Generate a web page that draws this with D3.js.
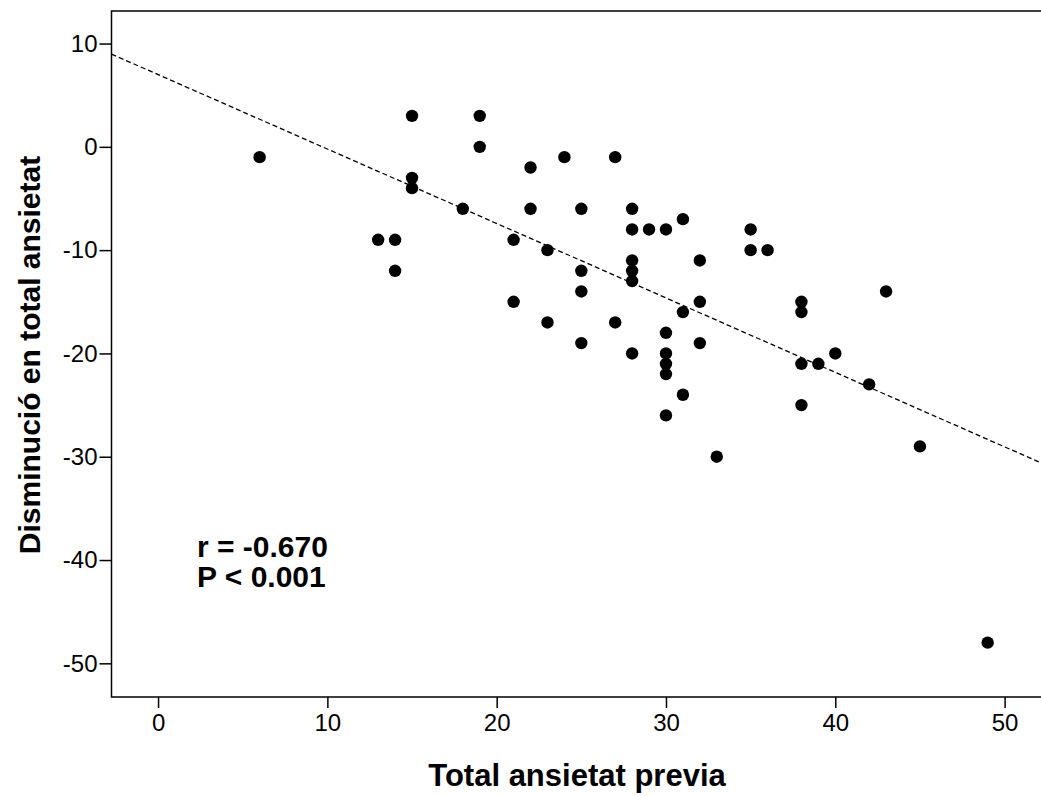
<!DOCTYPE html>
<html>
<head>
<meta charset="utf-8">
<script src="https://cdn.jsdelivr.net/npm/d3@7"></script>
<style>
  html, body { margin: 0; padding: 0; background: #fff; overflow: hidden; }
  svg { display: block; }
  svg text { font-family: "Liberation Sans", Arial, sans-serif; fill: #000; }
  .tick text { font-size: 24px; }
  .tick line { stroke: #000; stroke-width: 1.5; }
</style>
</head>
<body>
<main></main>
<script>
const width = 1041;
const height = 796;
const margin = {left: 111.5, right: 0, top: 11, bottom: 99};

// Total ansietat previa (x) vs Disminució en total ansietat (y)
const previa = [6, 13, 14, 14, 15, 15, 15, 18, 19, 19, 21, 21, 22, 22, 23, 23, 24,
  25, 25, 25, 25, 27, 27, 28, 28, 28, 28, 28, 28, 29, 30, 30, 30, 30, 30, 30,
  31, 31, 31, 32, 32, 32, 33, 35, 35, 36, 38, 38, 38, 38, 39, 40, 42, 43, 45, 49];
const disminucio = [-1, -9, -9, -12, 3, -3, -4, -6, 3, 0, -9, -15, -2, -6, -10, -17, -1,
  -6, -12, -14, -19, -1, -17, -6, -8, -11, -12, -13, -20, -8, -8, -18, -20, -21, -22, -26,
  -7, -16, -24, -11, -15, -19, -30, -8, -10, -10, -15, -16, -21, -25, -21, -20, -23, -14, -29, -48];

const xTicks = [0, 10, 20, 30, 40, 50];
const yTicks = [10, 0, -10, -20, -30, -40, -50];
const statsLines = ["r = -0.670", "P < 0.001"];

let svg;

const createSvg = () => {
    return d3.select('main')
             .append('svg')
             .attr('width', width)
             .attr('height', height);
};

const createScales = () => {
    const xScale = d3.scaleLinear()
                     .domain([-2.75, 52.15])
                     .range([margin.left, width - margin.right]);
    const yScale = d3.scaleLinear()
                     .domain([-53.26, 13.15])
                     .range([height - margin.bottom, margin.top]);
    return {xScale, yScale};
};

const createAxis = (scales) => {
    // plain hyphen for negatives, like the original
    const fmt = (d) => String(d);
    const bottom = height - margin.bottom;

    svg.append('g')
       .attr('transform', 'translate(0, ' + bottom + ')')
       .call(d3.axisBottom(scales.xScale).tickValues(xTicks).tickFormat(fmt).tickSize(11).tickPadding(6))
       .call(g => g.select('.domain').remove());

    svg.append('g')
       .attr('transform', 'translate(' + margin.left + ', 0)')
       .call(d3.axisLeft(scales.yScale).tickValues(yTicks).tickFormat(fmt).tickSize(12).tickPadding(2))
       .call(g => g.select('.domain').remove());

    // frame: top, left and bottom; the right side runs off the picture
    svg.append('path')
       .attr('d', `M${width + 2},${margin.top}H${margin.left}V${bottom}H${width + 2}`)
       .attr('fill', 'none')
       .attr('stroke', '#000')
       .attr('stroke-width', 1.5);
};

const createFitLine = (scales) => {
    const mx = d3.mean(previa);
    const my = d3.mean(disminucio);
    const sxy = d3.sum(previa, (d, i) => (d - mx) * (disminucio[i] - my));
    const sxx = d3.sum(previa, (d) => (d - mx) * (d - mx));
    const slope = sxy / sxx;
    const intercept = my - slope * mx;
    const [x0, x1] = scales.xScale.domain();
    svg.append('line')
       .attr('x1', scales.xScale(x0))
       .attr('y1', scales.yScale(intercept + slope * x0))
       .attr('x2', scales.xScale(x1))
       .attr('y2', scales.yScale(intercept + slope * x1))
       .attr('stroke', '#000')
       .attr('stroke-width', 1.3)
       .attr('stroke-dasharray', '5,3');
};

const createPoints = (scales) => {
    svg.selectAll('circle')
       .data(previa)
       .enter()
       .append('circle')
       .attr('cx', (d) => scales.xScale(d))
       .attr('cy', (d, i) => scales.yScale(disminucio[i]))
       .attr('r', 6.2)
       .attr('fill', '#000');
};

const createLabels = () => {
    svg.append('text')
       .attr('x', 577)
       .attr('y', 786)
       .attr('text-anchor', 'middle')
       .style('font-size', '31px')
       .style('font-weight', 'bold')
       .text('Total ansietat previa');

    svg.append('text')
       .attr('transform', 'translate(40, 355) rotate(-90)')
       .attr('text-anchor', 'middle')
       .style('font-size', '30px')
       .style('font-weight', 'bold')
       .text('Disminució en total ansietat');

    svg.append('g')
       .selectAll('text')
       .data(statsLines)
       .enter()
       .append('text')
       .attr('x', 197)
       .attr('y', (d, i) => 557 + i * 30)
       .style('font-size', '30px')
       .style('font-weight', 'bold')
       .text((d) => d);
};

const driver = () => {
    svg = createSvg();
    const scales = createScales();
    createAxis(scales);
    createFitLine(scales);
    createPoints(scales);
    createLabels();
};

driver();
</script>
</body>
</html>
